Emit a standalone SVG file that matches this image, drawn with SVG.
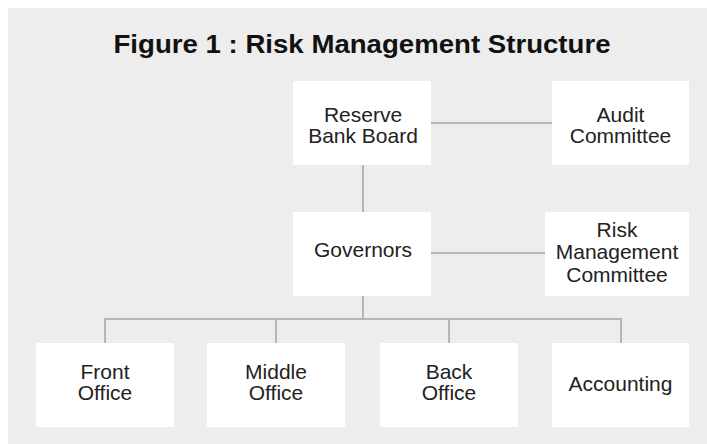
<svg xmlns="http://www.w3.org/2000/svg" width="707" height="444" viewBox="0 0 707 444">
  <style>
    .bg { fill: #ededed; }
    .box { fill: #ffffff; }
    .lbl { font-family: "Liberation Sans", Arial, sans-serif; font-size: 21px; fill: #222222; text-anchor: middle; }
    .title { font-family: "Liberation Sans", Arial, sans-serif; font-size: 26px; font-weight: bold; fill: #111111; text-anchor: middle; }
    .link { stroke: #b3b7bb; stroke-width: 2; fill: none; }
  </style>
  <rect class="bg" x="8" y="8" width="699" height="436"/>
  <text class="title" x="362" y="53" textLength="497" lengthAdjust="spacingAndGlyphs">Figure 1 : Risk Management Structure</text>

  <g id="connectors">
    <line class="link" x1="431" y1="123" x2="552" y2="123"/>
    <line class="link" x1="363" y1="165" x2="363" y2="212"/>
    <line class="link" x1="431" y1="253" x2="545" y2="253"/>
    <line class="link" x1="363" y1="296" x2="363" y2="319"/>
    <path class="link" d="M105 343 V319 H621 V343 M276 319 V343 M449 319 V343"/>
  </g>

  <g id="reserve-bank-board">
    <rect class="box" x="293" y="81" width="138" height="84"/>
    <text class="lbl" x="363" y="121.5">Reserve</text>
    <text class="lbl" x="363" y="143">Bank Board</text>
  </g>
  <g id="audit-committee">
    <rect class="box" x="552" y="81" width="137" height="84"/>
    <text class="lbl" x="620.5" y="121.5">Audit</text>
    <text class="lbl" x="620.5" y="143">Committee</text>
  </g>
  <g id="governors">
    <rect class="box" x="293" y="212" width="138" height="84"/>
    <text class="lbl" x="363" y="257">Governors</text>
  </g>
  <g id="risk-management-committee">
    <rect class="box" x="545" y="212" width="144" height="84"/>
    <text class="lbl" x="617" y="237">Risk</text>
    <text class="lbl" x="617" y="259">Management</text>
    <text class="lbl" x="617" y="281.5">Committee</text>
  </g>
  <g id="front-office">
    <rect class="box" x="36" y="343" width="138" height="84"/>
    <text class="lbl" x="105" y="378.5">Front</text>
    <text class="lbl" x="105" y="400">Office</text>
  </g>
  <g id="middle-office">
    <rect class="box" x="207" y="343" width="138" height="84"/>
    <text class="lbl" x="276" y="378.5">Middle</text>
    <text class="lbl" x="276" y="400">Office</text>
  </g>
  <g id="back-office">
    <rect class="box" x="380" y="343" width="138" height="84"/>
    <text class="lbl" x="449" y="378.5">Back</text>
    <text class="lbl" x="449" y="400">Office</text>
  </g>
  <g id="accounting">
    <rect class="box" x="552" y="343" width="137" height="84"/>
    <text class="lbl" x="620.5" y="391">Accounting</text>
  </g>
</svg>
